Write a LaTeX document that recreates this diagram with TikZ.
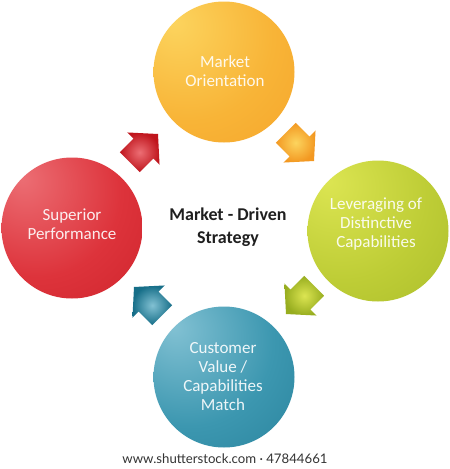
\documentclass[tikz,border=0pt]{standalone}
\usepackage{fontspec}
\setmainfont{Carlito}
\newfontfamily\footfont{Lato}
\definecolor{oL}{HTML}{FCD45E}\definecolor{oM}{HTML}{F8B437}\definecolor{oD}{HTML}{F2951F}
\definecolor{rL}{HTML}{EC6E74}\definecolor{rM}{HTML}{DD333B}\definecolor{rD}{HTML}{BF141C}
\definecolor{gL}{HTML}{DCE552}\definecolor{gM}{HTML}{BECD36}\definecolor{gD}{HTML}{97AD1F}
\definecolor{tL}{HTML}{82C1D3}\definecolor{tM}{HTML}{3C97B0}\definecolor{tD}{HTML}{166E88}
\pgfdeclareradialshading{oball}{\pgfpoint{-18bp}{18bp}}{color(0bp)=(oL); color(30bp)=(oM); color(75bp)=(oD); color(100bp)=(oD)}
\pgfdeclareradialshading{rball}{\pgfpoint{-18bp}{18bp}}{color(0bp)=(rL); color(30bp)=(rM); color(75bp)=(rD); color(100bp)=(rD)}
\pgfdeclareradialshading{gball}{\pgfpoint{-18bp}{18bp}}{color(0bp)=(gL); color(30bp)=(gM); color(75bp)=(gD); color(100bp)=(gD)}
\pgfdeclareradialshading{tball}{\pgfpoint{-18bp}{18bp}}{color(0bp)=(tL); color(30bp)=(tM); color(75bp)=(tD); color(100bp)=(tD)}
\tikzset{
  ball/.style={circle, minimum size=141pt, inner sep=0pt},
  balltext/.style={align=center, text=white, text opacity=0.9, font=\fontsize{17}{19}\selectfont},
  mid/.style={align=center, text=black!88, font=\bfseries\fontsize{18}{22.5}\selectfont},
}
\newcommand{\blockarrow}[4]{%
  \shade[shift={(#1)}, rotate=#2, scale=1.08, inner color=#3, outer color=#4]
    (19,0) -- (0,21) -- (0,13) -- (-18,13) -- (-18,-13) -- (0,-13) -- (0,-21) -- cycle;}
\begin{document}
\begin{tikzpicture}[x=1pt, y=-1pt]
\useasboundingbox (0,0) rectangle (450,469);
\fill[white] (0,0) rectangle (450,469);
% circles
\node[ball, shading=oball] (mo) at (224,72) {};
\node[ball, shading=rball] (sp) at (72,228) {};
\node[ball, shading=gball] (lc) at (378,231) {};
\node[ball, shading=tball] (cv) at (224,377) {};
% texts
\node[balltext] (tmo) at (225,71) {Market\\Orientation};
\node[balltext] (tsp) at (72,224) {Superior\\Performance};
\node[balltext] (tlc) at (376,224) {Leveraging of\\Distinctive\\Capabilities};
\node[balltext] (tcv) at (223,377) {Customer\\Value /\\Capabilities\\Match};
\node[mid] (center) at (228,227) {Market - Driven\\Strategy};
% arrows
\blockarrow{143.5,148.5}{45}{rL}{rD}
\blockarrow{299.5,146.5}{-45}{oL}{oD!90!oM}
\blockarrow{300.5,299.5}{-135}{gL}{gD}
\blockarrow{148.5,301.5}{135}{tL}{tD}
% footer
\node[font=\footfont\fontsize{13.2}{15}\selectfont, text=black!80] (foot) at (225,459) {www.shutterstock.com · 47844661};
\end{tikzpicture}
\end{document}
